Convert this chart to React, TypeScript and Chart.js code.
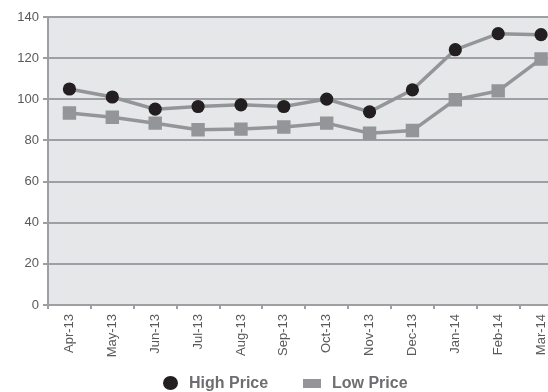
import React, { useEffect, useRef } from "react";
import { Chart, registerables } from "chart.js";

Chart.register(...registerables);

const categories = ["Apr-13", "May-13", "Jun-13", "Jul-13", "Aug-13", "Sep-13", "Oct-13", "Nov-13", "Dec-13", "Jan-14", "Feb-14", "Mar-14"];
const highPrice = [105, 101.1, 95.2, 96.5, 97.3, 96.5, 100.1, 93.9, 104.6, 124.1, 131.9, 131.4];
const lowPrice = [93.3, 91.3, 88.4, 85.2, 85.5, 86.5, 88.4, 83.5, 84.8, 99.8, 104.1, 119.6];
const seriesNames = ["High Price", "Low Price"];
const yMin = 0;
const yMax = 140;
const yStep = 20;

const GRID = "#9d9fa2";
const LINE = "#939598";
const DARK = "#231f20";
const TEXT = "#58595b";
const LEGEND_TEXT = "#6d6e71";
const FONT = "'Liberation Sans', Arial, sans-serif";

const bgPlugin = {
  id: "plotBg",
  beforeDraw(chart: any) {
    const { ctx, chartArea } = chart;
    ctx.save();
    ctx.fillStyle = "#e6e7e8";
    ctx.fillRect(chartArea.left, chartArea.top, chartArea.right - chartArea.left, chartArea.bottom - chartArea.top);
    ctx.restore();
  },
};

export default function App() {
  const ref = useRef<HTMLCanvasElement | null>(null);

  useEffect(() => {
    if (!ref.current) return;
    const chart = new Chart(ref.current, {
      type: "line",
      data: {
        labels: categories,
        datasets: [
          {
            label: seriesNames[0],
            data: highPrice,
            borderColor: LINE,
            borderWidth: 3.5,
            pointStyle: "circle",
            pointRadius: 6.6,
            pointBackgroundColor: DARK,
            pointBorderColor: DARK,
            pointBorderWidth: 0,
            tension: 0,
          },
          {
            label: seriesNames[1],
            data: lowPrice,
            borderColor: LINE,
            borderWidth: 3.5,
            pointStyle: "rect",
            pointRadius: 9.5,
            pointBackgroundColor: LINE,
            pointBorderColor: LINE,
            pointBorderWidth: 0,
            tension: 0,
          },
        ],
      },
      options: {
        responsive: false,
        animation: false,
        layout: { padding: { left: 0, right: 9, top: 17, bottom: 0 } },
        plugins: {
          legend: { display: false },
          tooltip: { enabled: false },
        },
        scales: {
          x: {
            offset: true,
            afterFit: (s: any) => {
              s.height = 87;
            },
            grid: {
              display: true,
              offset: true,
              drawOnChartArea: false,
              drawTicks: true,
              tickLength: 4,
              color: GRID,
              lineWidth: 2,
            },
            border: { display: true, color: GRID, width: 2 },
            ticks: {
              minRotation: 90,
              maxRotation: 90,
              autoSkip: false,
              padding: 5,
              color: TEXT,
              font: { family: FONT, size: 13 },
            },
          },
          y: {
            min: yMin,
            max: yMax,
            afterFit: (s: any) => {
              s.width = 48;
            },
            grid: {
              color: GRID,
              lineWidth: 2,
              drawTicks: true,
              tickLength: 5,
            },
            border: { display: true, color: GRID, width: 2 },
            ticks: {
              stepSize: yStep,
              padding: 4,
              color: TEXT,
              font: { family: FONT, size: 13 },
            },
          },
        },
      },
      plugins: [bgPlugin],
    });
    return () => chart.destroy();
  }, []);

  const legendText: React.CSSProperties = {
    position: "absolute",
    fontFamily: FONT,
    fontWeight: "bold",
    fontSize: 16,
    lineHeight: "16px",
    color: LEGEND_TEXT,
    whiteSpace: "nowrap",
    top: 375,
  };

  return (
    <div
      style={{
        position: "fixed",
        left: 0,
        top: 0,
        width: 548,
        height: 392,
        overflow: "hidden",
        background: "#ffffff",
      }}
    >
      <canvas ref={ref} width={572} height={392} style={{ position: "absolute", left: 0, top: 0, display: "block" }} />
      <div style={{ position: "absolute", left: 163, top: 376, width: 15, height: 14, borderRadius: "50%", background: DARK }} />
      <div style={{ ...legendText, left: 189 }}>{seriesNames[0]}</div>
      <div style={{ position: "absolute", left: 303, top: 379, width: 18, height: 9, background: LINE }} />
      <div style={{ ...legendText, left: 332 }}>{seriesNames[1]}</div>
    </div>
  );
}
